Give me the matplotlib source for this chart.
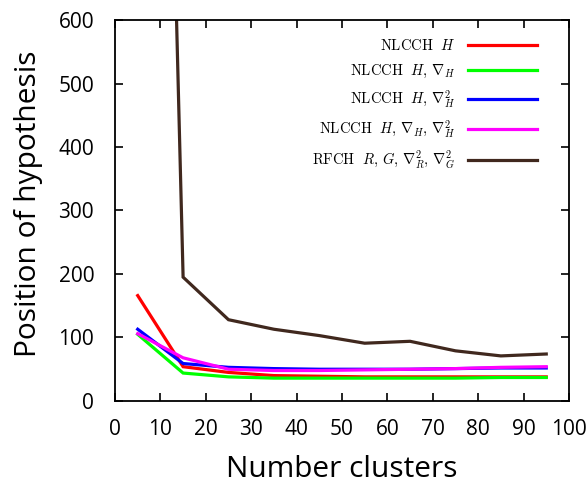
import matplotlib
matplotlib.use("Agg")
import matplotlib.pyplot as plt

# Number of clusters used for each run
clusters = [5, 15, 25, 35, 45, 55, 65, 75, 85, 95]

# Position of the correct hypothesis for each descriptor combination
nlcch_h = [166, 54, 45, 40, 39, 38, 38, 38, 38, 38]
nlcch_h_grad = [105, 44, 38, 36, 36, 36, 36, 36, 37, 37]
nlcch_h_lap = [113, 59, 53, 51, 50, 50, 50, 51, 52, 52]
nlcch_h_grad_lap = [106, 68, 50, 48, 48, 49, 50, 51, 53, 54]
rfch_rg = [3000, 195, 128, 113, 103, 91, 94, 79, 71, 74]

labels = [
    r"$\mathrm{NLCCH}\ \ H$",
    r"$\mathrm{NLCCH}\ \ H,\,\nabla_H$",
    r"$\mathrm{NLCCH}\ \ H,\,\nabla^2_H$",
    r"$\mathrm{NLCCH}\ \ H,\,\nabla_H,\,\nabla^2_H$",
    r"$\mathrm{RFCH}\ \ R,\,G,\,\nabla^2_R,\,\nabla^2_G$",
]
colors = ["#ff0000", "#00ff00", "#0000ff", "#ff00ff", "#40281e"]
series = [nlcch_h, nlcch_h_grad, nlcch_h_lap, nlcch_h_grad_lap, rfch_rg]

xticks = [0, 10, 20, 30, 40, 50, 60, 70, 80, 90, 100]
yticks = [0, 100, 200, 300, 400, 500, 600]

plt.rcParams["mathtext.fontset"] = "cm"
plt.rcParams["font.family"] = ["Open Sans", "DejaVu Sans"]

fig = plt.figure(figsize=(5.88, 4.88), dpi=100)
ax = fig.add_axes([0.1956, 0.1783, 0.772, 0.7807])

for vals, col, lab in zip(series, colors, labels):
    ax.plot(clusters, vals, color=col, lw=2.3, label=lab, solid_joinstyle="miter")

ax.set_xlim(0, 100)
ax.set_ylim(0, 600)
ax.set_xticks(xticks)
ax.set_yticks(yticks)
ax.tick_params(direction="in", length=6, width=1.2, top=True, right=True,
               labelsize=15)
ax.tick_params(axis="x", pad=13)
ax.tick_params(axis="y", pad=15)
for s in ax.spines.values():
    s.set_linewidth(1.3)

ax.set_xlabel("Number clusters", fontsize=21.5, labelpad=11)
ax.set_ylabel("Position of hypothesis", fontsize=21.5)
ax.yaxis.set_label_coords(-0.158, 0.518)

leg = ax.legend(loc="upper right", bbox_to_anchor=(0.958, 0.985), frameon=False,
                markerfirst=False, fontsize=10.5, handlelength=4.7,
                labelspacing=0.6, handletextpad=0.9)

fig.savefig("out.png", dpi=100)
